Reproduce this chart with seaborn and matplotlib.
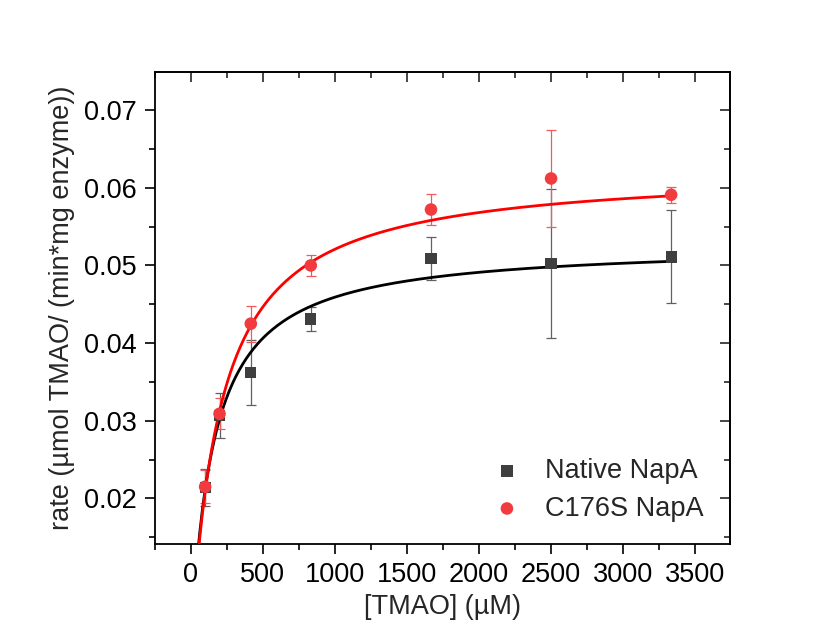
import numpy as np
import pandas as pd
import matplotlib
matplotlib.use("Agg")
import matplotlib.pyplot as plt
from matplotlib.ticker import MultipleLocator, FormatStrFormatter
import seaborn as sns

# TMAO concentrations (µM)
tmao = [100, 200, 417, 833, 1667, 2500, 3333]

# Measured rates and standard deviations
native_rate = [0.0214, 0.0307, 0.0362, 0.0431, 0.0509, 0.0502, 0.0511]
native_err = [0.0024, 0.0029, 0.0042, 0.0016, 0.0028, 0.0096, 0.0060]
c176s_rate = [0.0215, 0.0309, 0.0425, 0.0500, 0.0572, 0.0612, 0.0591]
c176s_err = [0.0021, 0.0020, 0.0023, 0.0014, 0.0020, 0.0063, 0.0010]

# Michaelis-Menten fit parameters (Vmax, Km)
native_fit = (0.0528, 150.0)
c176s_fit = (0.0625, 200.0)

series_names = ["Native NapA", "C176S NapA"]
colors = {"Native NapA": "#3f3f3f", "C176S NapA": "#f23b3f"}
fit_colors = {"Native NapA": "#000000", "C176S NapA": "#ff0000"}
err_colors = {"Native NapA": "#606060", "C176S NapA": "#f05a5c"}
markers = {"Native NapA": "s", "C176S NapA": "o"}
marker_area = {"Native NapA": 65, "C176S NapA": 82}

FS = 19.5

sns.set_theme(style="ticks")
plt.rcParams["font.family"] = ["Liberation Sans", "DejaVu Sans"]

df = pd.DataFrame({
    "tmao": tmao * 2,
    "rate": native_rate + c176s_rate,
    "err": native_err + c176s_err,
    "enzyme": [series_names[0]] * len(tmao) + [series_names[1]] * len(tmao),
})

s_grid = np.linspace(30, tmao[-1], 400)
fit_rows = []
for name, (vmax, km) in zip(series_names, [native_fit, c176s_fit]):
    fit_rows.append(pd.DataFrame({"tmao": s_grid,
                                  "rate": vmax * s_grid / (km + s_grid),
                                  "enzyme": name}))
fit_df = pd.concat(fit_rows, ignore_index=True)

fig = plt.figure(figsize=(8.36, 6.38), dpi=100)
ax = fig.add_axes([0.185, 0.147, 0.688, 0.740])

# error bars
for name in series_names:
    sub = df[df["enzyme"] == name]
    ax.errorbar(sub["tmao"], sub["rate"], yerr=sub["err"], fmt="none",
                ecolor=err_colors[name], elinewidth=0.9, capsize=3.6,
                capthick=0.9, zorder=2)

# fitted curves
sns.lineplot(data=fit_df, x="tmao", y="rate", hue="enzyme",
             palette=fit_colors, linewidth=2.0, legend=False, ax=ax,
             zorder=3)

# data points
for name in series_names:
    sub = df[df["enzyme"] == name]
    sns.scatterplot(data=sub, x="tmao", y="rate", color=colors[name],
                    marker=markers[name], s=marker_area[name],
                    edgecolor="none", label=name, ax=ax, zorder=4)

ax.set_xlim(-250, 3740)
ax.set_ylim(0.0141, 0.0749)
ax.xaxis.set_major_locator(MultipleLocator(500))
ax.xaxis.set_minor_locator(MultipleLocator(250))
ax.yaxis.set_major_locator(MultipleLocator(0.01))
ax.yaxis.set_minor_locator(MultipleLocator(0.005))
ax.yaxis.set_major_formatter(FormatStrFormatter("%.2f"))

for side in ["left", "right", "top", "bottom"]:
    ax.spines[side].set_visible(True)
    ax.spines[side].set_linewidth(1.3)
    ax.spines[side].set_color("black")

ax.tick_params(which="both", bottom=True, left=True, top=False, right=False,
               direction="out", width=1.2, labelsize=FS, colors="black")
ax.tick_params(which="major", length=7, pad=6)
ax.tick_params(which="minor", length=4)

# inward ticks on the top and right spines
sec_x = ax.secondary_xaxis("top")
sec_x.xaxis.set_major_locator(MultipleLocator(500))
sec_x.xaxis.set_minor_locator(MultipleLocator(250))
sec_x.tick_params(which="both", direction="in", width=1.2, labeltop=False)
sec_x.tick_params(which="major", length=7)
sec_x.tick_params(which="minor", length=4)
sec_x.spines["top"].set_linewidth(1.3)
sec_y = ax.secondary_yaxis("right")
sec_y.yaxis.set_major_locator(MultipleLocator(0.01))
sec_y.yaxis.set_minor_locator(MultipleLocator(0.005))
sec_y.tick_params(which="both", direction="in", width=1.2, labelright=False)
sec_y.tick_params(which="major", length=7)
sec_y.tick_params(which="minor", length=4)
sec_y.spines["right"].set_linewidth(1.3)

ax.set_xlabel("[TMAO] (µM)", fontsize=FS, labelpad=4)
ax.set_ylabel("rate (µmol TMAO/ (min*mg enzyme))", fontsize=FS, labelpad=6)

handles, labels = ax.get_legend_handles_labels()
ax.legend(handles, labels, loc="lower right", frameon=False, fontsize=FS,
          handletextpad=0.4, borderaxespad=0.0, labelspacing=0.42,
          bbox_to_anchor=(0.973, 0.025))

fig.savefig("out.png", dpi=100, facecolor="white")
